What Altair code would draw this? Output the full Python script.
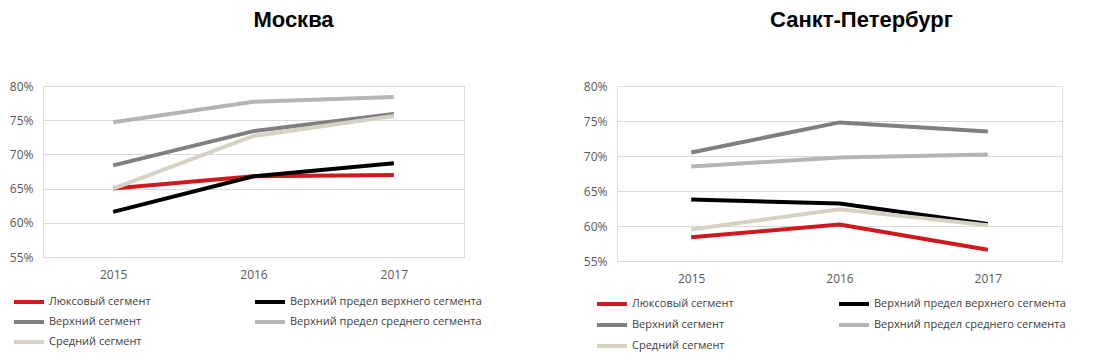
import altair as alt
import pandas as pd

years = ["2015", "2016", "2017"]
series = [
    "Люксовый сегмент",
    "Верхний предел верхнего сегмента",
    "Верхний сегмент",
    "Верхний предел среднего сегмента",
    "Средний сегмент",
]
colors = ["#D0191F", "#000000", "#7F7F7F", "#B4B4B4", "#D5D2C3"]
# legend fills column by column: first column, then second
legend_order = [series[0], series[2], series[4], series[1], series[3]]
legend_colors = [colors[0], colors[2], colors[4], colors[1], colors[3]]

# values in percent
moscow_lux = [65.0, 66.8, 67.0]
moscow_upper_limit_upper = [61.6, 66.8, 68.7]
moscow_upper = [68.4, 73.4, 75.9]
moscow_upper_limit_middle = [74.7, 77.7, 78.4]
moscow_middle = [65.0, 72.7, 75.6]

spb_lux = [58.4, 60.2, 56.6]
spb_upper_limit_upper = [63.8, 63.2, 60.3]
spb_upper = [70.5, 74.8, 73.5]
spb_upper_limit_middle = [68.5, 69.8, 70.2]
spb_middle = [59.5, 62.4, 60.1]

y_ticks = [0.55, 0.60, 0.65, 0.70, 0.75, 0.80]

FONT = "Open Sans"
# legend line symbol: 30px long line that ends where the label starts
LEGEND_LINE = "M-2,0H1"


def frame(vals):
    rows = []
    for name, vs in zip(series, vals):
        for yr, v in zip(years, vs):
            rows.append({"year": yr, "series": name, "value": v / 100.0})
    return pd.DataFrame(rows)


def panel(df, title, w, h, lx, ly, rp, cp, tdx):
    return (
        alt.Chart(df)
        .mark_line(strokeWidth=4, strokeCap="butt")
        .encode(
            x=alt.X(
                "year:N",
                scale=alt.Scale(type="point", padding=0.5),
                axis=alt.Axis(
                    title=None, labelAngle=0, domain=False, ticks=False,
                    labelPadding=12, labelFontSize=12, labelColor="#595959",
                    labelFont=FONT,
                ),
            ),
            y=alt.Y(
                "value:Q",
                scale=alt.Scale(domain=[0.55, 0.80], nice=False, zero=False),
                axis=alt.Axis(
                    title=None, values=y_ticks, format=".0%", domain=False,
                    ticks=False, labelPadding=10, labelFontSize=12,
                    labelColor="#595959", labelFont=FONT,
                    gridColor="#D9D9D9", gridWidth=1,
                ),
            ),
            color=alt.Color(
                "series:N",
                scale=alt.Scale(domain=legend_order, range=legend_colors),
                legend=alt.Legend(
                    title=None, orient="none", legendX=lx, legendY=ly,
                    columns=2, columnPadding=cp, rowPadding=rp,
                    symbolType=LEGEND_LINE, symbolSize=400,
                    symbolStrokeWidth=4,
                    labelFontSize=11, labelFont=FONT, labelColor="#404040",
                    labelOffset=3, labelLimit=400,
                ),
            ),
            order=alt.Order("year:N"),
        )
        .properties(
            width=w, height=h,
            title=alt.TitleParams(
                title, fontSize=22, font="Liberation Sans", fontWeight="bold",
                color="#000000", anchor="middle", offset=48, frame="group",
                dx=tdx,
            ),
        )
    )


left = panel(
    frame([moscow_lux, moscow_upper_limit_upper, moscow_upper,
           moscow_upper_limit_middle, moscow_middle]),
    "Москва", 421, 171, -21, 204, -4, 96, 40,
)
right = panel(
    frame([spb_lux, spb_upper_limit_upper, spb_upper,
           spb_upper_limit_middle, spb_middle]),
    "Санкт-Петербург", 445, 175, -12, 206, 1, 97, 22,
)

chart = (
    alt.hconcat(left, right, spacing=99)
    .resolve_scale(color="independent", x="independent", y="independent")
    .properties(padding=0)
    .configure_view(stroke=None)
    .configure(background="white")
)

chart.save("out.html", embed_options={"renderer": "svg", "actions": False})
